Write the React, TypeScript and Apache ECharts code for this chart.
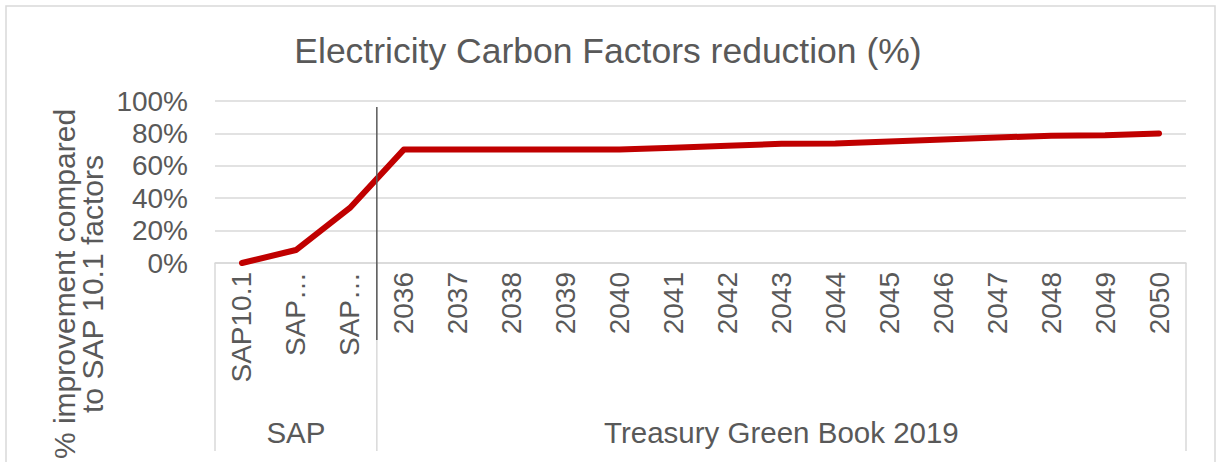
import React, { useEffect, useRef } from "react";
import * as echarts from "echarts";

const categories = [
  "SAP10.1", "SAP…", "SAP…",
  "2036", "2037", "2038", "2039", "2040", "2041", "2042", "2043",
  "2044", "2045", "2046", "2047", "2048", "2049", "2050",
];
const values = [0, 8, 34, 70, 70, 70, 70, 70, 71.2, 72.4, 73.6, 73.7, 75.0, 76.2, 77.4, 78.6, 78.8, 80];
const groupNames = ["SAP", "Treasury Green Book 2019"];
const groupSizes = [3, 15];
const yTicks = [0, 20, 40, 60, 80, 100];

const FONT = "'Liberation Sans', Arial, sans-serif";
const TEXT = "#595959";
const GRID = "#d9d9d9";

export default function App() {
  const ref = useRef<HTMLDivElement>(null);
  useEffect(() => {
    document.body.style.margin = "0";
    const chart = echarts.init(ref.current!, null, { renderer: "svg" });
    chart.setOption({
      animation: false,
      backgroundColor: "#ffffff",
      textStyle: { fontFamily: FONT },
      title: {
        text: "Electricity Carbon Factors reduction (%)",
        left: "center",
        top: 28,
        textStyle: { fontSize: 35.5, fontWeight: "normal", color: TEXT, fontFamily: FONT },
      },
      grid: { left: 215, right: 30, top: 101, bottom: 199 },
      xAxis: {
        type: "category",
        data: categories,
        boundaryGap: true,
        axisLine: { lineStyle: { color: GRID, width: 1.5 } },
        axisTick: { show: false },
        axisLabel: { rotate: 90, margin: 9, fontSize: 28, color: TEXT, interval: 0, fontFamily: FONT },
      },
      yAxis: {
        type: "value",
        min: yTicks[0],
        max: yTicks[yTicks.length - 1],
        interval: 20,
        axisLine: { show: false },
        axisTick: { show: false },
        axisLabel: { formatter: "{value}%", fontSize: 28, color: TEXT, margin: 27, fontFamily: FONT },
        splitLine: { lineStyle: { color: GRID, width: 1.5 } },
      },
      series: [
        {
          type: "line",
          data: values,
          symbol: "none",
          lineStyle: { color: "#c00000", width: 6, cap: "round", join: "round" },
          itemStyle: { color: "#c00000" },
          z: 3,
        },
      ],
    });

    const c0 = chart.convertToPixel({ xAxisIndex: 0 }, 0) as number;
    const c1 = chart.convertToPixel({ xAxisIndex: 0 }, 1) as number;
    const band = c1 - c0;
    const axisY = chart.convertToPixel({ yAxisIndex: 0 }, 0) as number;
    const start = c0 - band / 2;
    const bounds: number[] = [start];
    let acc = 0;
    groupSizes.forEach((n) => {
      acc += n;
      bounds.push(start + acc * band);
    });
    const bottomY = 451;
    const graphics: any[] = [
      {
        type: "rect",
        shape: { x: 6, y: 6, width: 1209, height: 480 },
        style: { fill: "none", stroke: GRID, lineWidth: 1.5 },
        silent: true,
      },
      {
        type: "text",
        x: 78,
        y: 284,
        rotation: Math.PI / 2,
        style: {
          text: "% improvement compared\nto SAP 10.1 factors",
          align: "center",
          verticalAlign: "middle",
          fontSize: 30,
          lineHeight: 28,
          fill: TEXT,
          fontFamily: FONT,
        },
      },
    ];
    bounds.forEach((bx) => {
      graphics.push({
        type: "line",
        shape: { x1: bx, y1: axisY, x2: bx, y2: bottomY },
        style: { stroke: GRID, lineWidth: 1.5 },
        silent: true,
      });
    });
    groupNames.forEach((name, i) => {
      graphics.push({
        type: "text",
        x: (bounds[i] + bounds[i + 1]) / 2,
        y: 432,
        style: { text: name, align: "center", verticalAlign: "middle", fontSize: 29.5, fill: TEXT, fontFamily: FONT },
      });
    });
    graphics.push({
      type: "line",
      z: 100,
      shape: { x1: bounds[1], y1: 107, x2: bounds[1], y2: 340 },
      style: { stroke: "#595959", lineWidth: 1.5 },
      silent: true,
    });
    chart.setOption({ graphic: graphics });

    return () => chart.dispose();
  }, []);
  return <div ref={ref} style={{ width: 1216, height: 462 }} />;
}
